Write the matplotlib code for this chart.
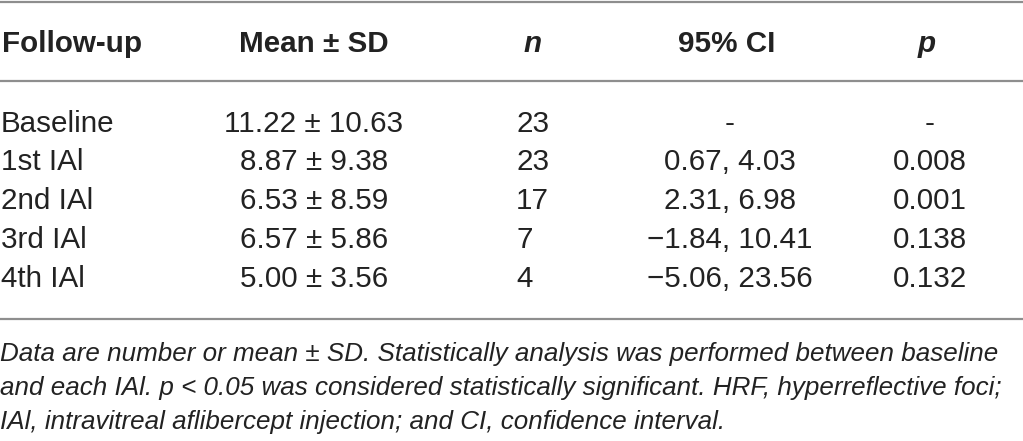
import matplotlib
matplotlib.use("Agg")
import matplotlib.pyplot as plt

# table content
headers = ["Follow-up", "Mean ± SD", "n", "95% CI", "p"]
follow_up = ["Baseline", "1st IAl", "2nd IAl", "3rd IAl", "4th IAl"]
mean_sd = ["11.22 ± 10.63", "8.87 ± 9.38", "6.53 ± 8.59", "6.57 ± 5.86", "5.00 ± 3.56"]
n_vals = ["23", "23", "17", "7", "4"]
ci_vals = ["-", "0.67, 4.03", "2.31, 6.98", "\u22121.84, 10.41", "\u22125.06, 23.56"]
p_vals = ["-", "0.008", "0.001", "0.138", "0.132"]
footnote = [
    "Data are number or mean ± SD. Statistically analysis was performed between baseline",
    "and each IAl. p < 0.05 was considered statistically significant. HRF, hyperreflective foci;",
    "IAl, intravitreal aflibercept injection; and CI, confidence interval.",
]

plt.rcParams['font.family'] = ['Liberation Sans', 'DejaVu Sans']

W, H = 1023, 441
fig = plt.figure(figsize=(W / 100, H / 100), dpi=100)
ax = fig.add_axes([0, 0, 1, 1])
ax.set_xlim(0, W)
ax.set_ylim(H, 0)
ax.axis('off')

txt = '#222222'
rule = '#8e8e8e'

# horizontal rules
for y in (1.5, 81, 319):
    ax.axhline(y, color=rule, lw=1.6)

# header row (x position, alignment, style)
head_pos = [(2, 'left', 'normal'), (314, 'center', 'normal'), (533, 'center', 'italic'),
            (727, 'center', 'normal'), (927, 'center', 'italic')]
for h, (x, ha, st) in zip(headers, head_pos):
    ax.text(x, 52, h, ha=ha, va='baseline', fontsize=21.3, fontweight='bold',
            fontstyle=st, color=txt)

# body rows
row_y = [132, 170.5, 209, 248, 287]
cols = [(follow_up, 1, 'left'), (mean_sd, 314, 'center'), (n_vals, 516, 'left'),
        (ci_vals, 730, 'center'), (p_vals, 930, 'center')]
for values, x, ha in cols:
    for v, y in zip(values, row_y):
        ax.text(x, y, v, ha=ha, va='baseline', fontsize=21.3, color=txt)

# footnote
for i, line in enumerate(footnote):
    ax.text(0, 361 + i * 34, line, ha='left', va='baseline', fontsize=18.75,
            fontstyle='italic', color=txt)

fig.savefig("out.png", dpi=100)
